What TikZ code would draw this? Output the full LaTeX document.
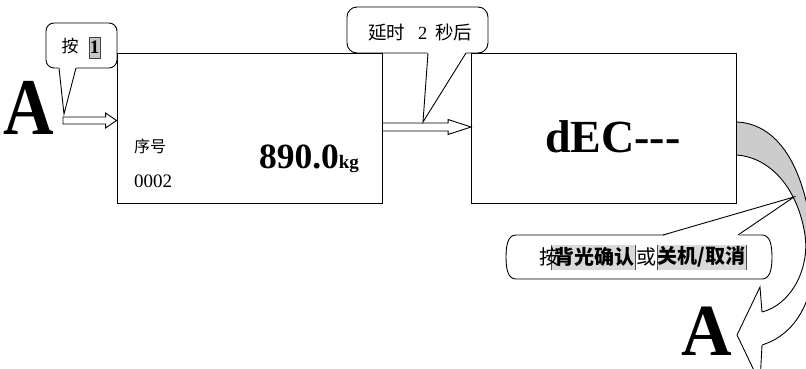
\documentclass[tikz,border=0pt]{standalone}
\usepackage{fontspec}
\setmainfont{Liberation Serif}
\newfontfamily\cjk{Noto Sans CJK SC}
\usetikzlibrary{calc}
\definecolor{hlgray}{gray}{0.85}
\definecolor{arrgray}{gray}{0.8}
\definecolor{keygray}{gray}{0.78}
\newcommand\fs[1]{\fontsize{#1}{#1}\selectfont}
% hollow horizontal arrow: #1 start, #2 tip, #3 shaft half-height, #4 head half-height, #5 head length
\newcommand\harrow[5]{%
  \draw[hollow] ($(#1)+(0,-#3)$) -- ($(#2)+(-#5,-#3)$) -- ($(#2)+(-#5,-#4)$) -- (#2)
    -- ($(#2)+(-#5,#4)$) -- ($(#2)+(-#5,#3)$) -- ($(#1)+(0,#3)$) -- cycle;}
\tikzset{
  panel/.style={draw, line width=0.9pt, minimum width=265pt, minimum height=150pt, inner sep=0pt},
  txt/.style={inner sep=0pt, outer sep=0pt},
  bubble/.style={draw, fill=white, line width=0.9pt},
  hollow/.style={draw, fill=white, line width=0.9pt},
  hlbox/.style={fill=hlgray, draw=none},
}
\begin{document}
\begin{tikzpicture}[x=1pt,y=-1pt,line width=0.9pt]
\useasboundingbox[fill=white] (0,0) rectangle (806,369);

% curved return arrow
\fill[arrgray] (737,122) .. controls (775,124) and (800,160) .. (810,220) -- (815,248) -- (806,244) -- (805,235)
   .. controls (798,190) and (772,158) .. (737,155) -- cycle;
\draw (737,122) .. controls (775,124) and (800,160) .. (810,220) .. controls (822,270) and (810,330) .. (762,345);
\draw (737,155) .. controls (772,158) and (798,190) .. (805,235) .. controls (810,270) and (790,305) .. (762,312);
\draw[fill=white] (762,312) -- (760,287) -- (737,335) -- (760,383) -- (762,345);

% panels
\node[panel] (box1) at (249.5,128) {};
\node[panel] (box2) at (604,128) {};

% panel 1 content
\node[txt, anchor=west] (seq) at (134,146) {\cjk\fs{16}序号};
\node[txt, anchor=base west] (num) at (134,187) {\fs{19}0002};
\node[txt, anchor=base west] (wt) at (259,168) {\bfseries\fs{35.5}890.0{\fs{19}kg}};

% panel 2 content
\node[txt, anchor=base west] (dec) at (545,152) {\bfseries\fs{46}dEC-{}-{}-};

% big A's
\node[txt, anchor=base west] (A1) at (4,134) {\scalebox{1}[1.15]{\bfseries\fs{70}A}};
\node[txt, anchor=base west] (A2) at (681,355) {\scalebox{1}[1.05]{\bfseries\fs{70}A}};

% hollow arrows
\coordinate (a1s) at (63,120.5);
\coordinate (a1e) at (box1.west |- a1s);
\harrow{a1s}{a1e}{3.5}{7.5}{11}
\coordinate (a2s) at (box1.east |- 0,127);
\coordinate (a2e) at (box2.west |- 0,127);
\harrow{a2s}{a2e}{4}{7.5}{23}

% callout 1: press 1
\node[bubble, rounded corners=8pt, minimum width=71pt, minimum height=45pt, inner sep=0pt] (c1) at (81.5,45.5) {};
\fill[white] (58.5,67) -- (64,114) -- (76.5,67) -- cycle;
\draw (59,68) -- (64,114) -- (76,68);
\node[txt] (c1t) at (70,46) {\cjk\fs{17}按};
\node[draw=black!75, fill=keygray, line width=0.7pt, minimum width=11pt, minimum height=21pt, inner sep=0pt] (k1) at (94.5,47.5) {\bfseries\fs{19}1};

% callout 2: delay 2 s
\node[bubble, rounded corners=10pt, minimum width=141pt, minimum height=46pt, inner sep=0pt] (c2) at (417.5,30) {};
\fill[white] (427.5,52) -- (423,122) -- (466.5,52) -- cycle;
\draw (428,53) -- (423,122) -- (466,53);
\node[txt, anchor=west] (c2t) at (368,33) {\cjk\fs{18.5}延时\hspace{13pt}{\rmfamily 2}\hspace{8pt}秒后};

% callout 3: press backlight/confirm or off/cancel
\draw[bubble] (516,235) -- (762,235) .. controls (770,235) and (772,245) .. (772,257)
   .. controls (772,269) and (770,279) .. (762,279) -- (516,279)
   .. controls (508,279) and (506,269) .. (506,257) .. controls (506,245) and (508,235) .. (516,235) -- cycle;
\fill[white] (662.5,236) -- (794,197) -- (738.5,236) -- cycle;
\draw (663,235) -- (794,197) -- (738,235);
\fill[hlbox] (551,245) rectangle (635,270);
\fill[hlbox] (657,245) rectangle (746,270);
\draw[black!70, line width=0.6pt] (551,245) -- (551,270) (635,245) -- (635,270) (657,245) -- (657,270) (746,245) -- (746,270);
\node[txt] (c3a) at (549,257) {\cjk\fs{20}按};
\node[txt] (c3b) at (594,257) {\cjk\bfseries\fs{20}背光确认};
\node[txt] (c3c) at (646,257) {\cjk\fs{20}或};
\node[txt] (c3d) at (701.5,257) {\cjk\bfseries\fs{20}关机/取消};
\end{tikzpicture}
\end{document}
